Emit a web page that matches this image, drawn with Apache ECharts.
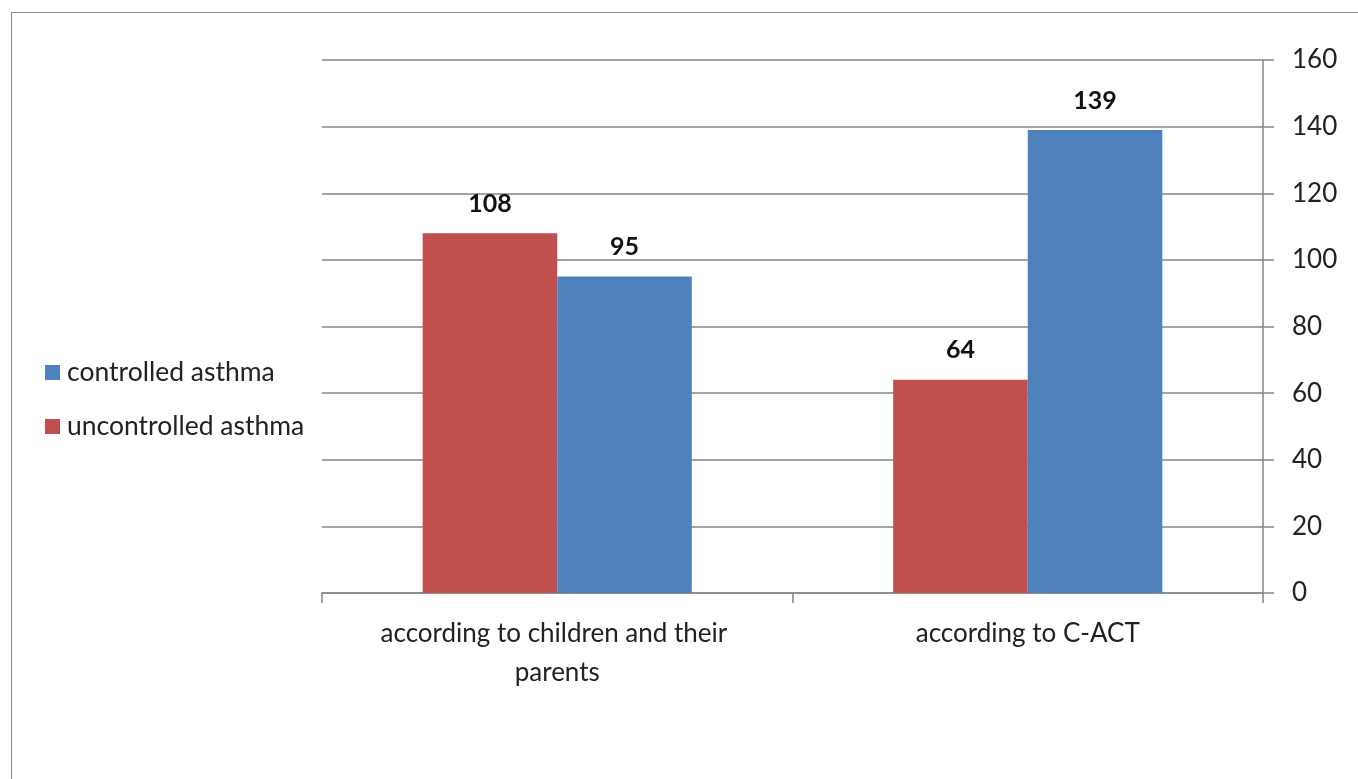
<!DOCTYPE html>
<html>
<head>
<meta charset="utf-8">
<script src="https://cdn.jsdelivr.net/npm/echarts@6/dist/echarts.min.js"></script>
<style>
html,body{margin:0;padding:0;background:#fff;}
#frame{position:absolute;left:11px;top:12px;width:1400px;height:800px;border:1px solid #8a8a8a;box-sizing:border-box;}
#chart{position:absolute;left:0;top:0;width:1358px;height:779px;}
</style>
</head>
<body>
<div id="frame"></div>
<div id="chart"></div>
<script>
const categories = ["according to children and their parents", "according to C-ACT"];
const uncontrolled = [108, 64];
const controlled = [95, 139];
const yTicks = [0, 20, 40, 60, 80, 100, 120, 140, 160];

const font = "Lato, 'Open Sans', sans-serif";
const chart = echarts.init(document.getElementById('chart'));
chart.setOption({
  animation: false,
  grid: {left: 322, right: 95, top: 60, bottom: 186},
  legend: {
    orient: 'vertical', left: 40, top: 354, itemGap: 27,
    itemWidth: 15, itemHeight: 15, icon: 'rect',
    data: ['controlled asthma', 'uncontrolled asthma'],
    textStyle: {fontFamily: font, fontSize: 26.5, color: '#222', padding: [0,0,0,2]}
  },
  xAxis: {
    type: 'category', data: categories,
    axisLine: {lineStyle: {color: '#868686', width: 1.5}},
    axisTick: {show: true, length: 10, lineStyle: {color: '#868686', width: 1.5}},
    axisLabel: {interval: 0, hideOverlap: false, fontFamily: font, fontSize: 26, color: '#222', margin: 21, width: 420, overflow: 'break', lineHeight: 39}
  },
  yAxis: {
    type: 'value', position: 'right', min: 0, max: 160, interval: 20,
    axisLine: {show: true, lineStyle: {color: '#868686', width: 1.5}},
    axisTick: {show: true, length: 11, lineStyle: {color: '#868686', width: 1.5}},
    splitLine: {lineStyle: {color: '#868686', width: 1.5}},
    axisLabel: {fontFamily: font, fontSize: 26, color: '#222', margin: 29,
      formatter: v => yTicks.includes(v) ? String(v) : ''}
  },
  series: [
    {name: 'uncontrolled asthma', type: 'bar', data: uncontrolled, barWidth: '28.6%', barGap: '0%',
     itemStyle: {color: '#C0504D'},
     label: {show: true, position: 'top', distance: 17, fontFamily: font, fontSize: 25, fontWeight: 'bold', color: '#111'}},
    {name: 'controlled asthma', type: 'bar', data: controlled, barWidth: '28.6%', barGap: '0%',
     itemStyle: {color: '#4F81BD'},
     label: {show: true, position: 'top', distance: 17, fontFamily: font, fontSize: 25, fontWeight: 'bold', color: '#111'}}
  ]
});
</script>
</body>
</html>
